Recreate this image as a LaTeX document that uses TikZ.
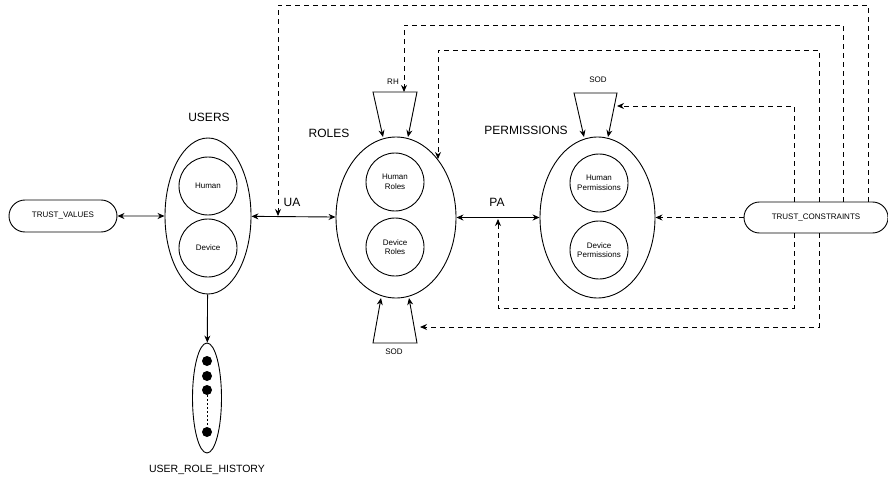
\documentclass[tikz,border=0pt]{standalone}
\usepackage{fontspec}
\setmainfont{Liberation Sans}
\usetikzlibrary{shapes,arrows.meta}

\begin{document}
\begin{tikzpicture}[x=1pt,y=-1pt]
\tikzstyle{every node}=[font=\fontsize{8}{9.5}\selectfont,inner sep=0pt]
\tikzstyle{set}=[ellipse,draw,line width=0.9pt]
\tikzstyle{sub}=[circle,draw,line width=0.9pt,minimum size=58,align=center]
\tikzstyle{term}=[rounded rectangle,draw,line width=0.9pt]
\tikzstyle{big}=[font=\fontsize{12}{14}\selectfont]
\tikzstyle{dot}=[circle,fill=black,minimum size=10]
\tikzstyle{link}=[line width=0.9pt,-{Stealth[length=7pt,width=6pt]}]
\tikzstyle{both}=[line width=0.9pt,{Stealth[length=7pt,width=6pt]}-{Stealth[length=7pt,width=6pt]}]
\tikzstyle{cons}=[line width=0.9pt,dash pattern=on 5pt off 4pt,-{Stealth[length=7pt,width=6pt]}]
\path[use as bounding box] (0,0) rectangle (888,481);

\node[term,minimum width=108,minimum height=32] (tv) at (63,216) {TRUST\_VALUES};
\node[set,minimum width=86,minimum height=156] (users) at (208,216) {};
\node[sub] (uhuman) at (208,186) {Human};
\node[sub] (udevice) at (208,248) {Device};
\node[big] (userslbl) at (209,117) {USERS};

\node[set,minimum width=120,minimum height=161] (roles) at (396,217.5) {};
\node[sub] (rhuman) at (395,182) {Human\\Roles};
\node[sub] (rdevice) at (395,247) {Device\\Roles};
\node[big] (roleslbl) at (329,133) {ROLES};

\node[set,minimum width=115,minimum height=161] (perms) at (597.5,217.5) {};
\node[sub] (phuman) at (599,183) {Human\\Permissions};
\node[sub] (pdevice) at (599,250) {Device\\Permissions};
\node[big] (permslbl) at (526,130) {PERMISSIONS};

\node[term,minimum width=144,minimum height=31] (tc) at (816,217.5) {TRUST\_CONSTRAINTS};

\node[set,minimum width=29,minimum height=110] (hist) at (207,398) {};
\node[dot] (d1) at (207,361) {};
\node[dot] (d2) at (207,376) {};
\node[dot] (d3) at (207,390) {};
\node[dot] (d4) at (207,432) {};
\node[font=\fontsize{10.5}{12}\selectfont] (histlbl) at (207,470) {USER\_ROLE\_HISTORY};
\draw[line width=0.9pt,dash pattern=on 2pt off 2pt] (d3) -- (d4);

\node[big] (ualbl) at (292,202) {UA};
\node[big] (palbl) at (497,202) {PA};
\node (rhlbl) at (393,82) {RH};
\node (sodp) at (598,80) {SOD};
\node (sodr) at (394,352) {SOD};

\coordinate (rh1) at (383,137);
\coordinate (rh2) at (373,92);
\coordinate (rh3) at (417,92);
\coordinate (rh4) at (408,137);
\coordinate (sp1) at (584,137);
\coordinate (sp2) at (574,93);
\coordinate (sp3) at (617,93);
\coordinate (sp4) at (608,137);
\coordinate (sr1) at (381,298);
\coordinate (sr2) at (373,343);
\coordinate (sr3) at (417,343);
\coordinate (sr4) at (409,298);
\draw[both] (rh1) -- (rh2) -- (rh3) -- (rh4);
\draw[both] (sp1) -- (sp2) -- (sp3) -- (sp4);
\draw[both] (sr1) -- (sr2) -- (sr3) -- (sr4);

\draw[both] (tv) -- (users);
\draw[both] (users) -- (roles);
\draw[both] (roles) -- (perms);
\draw[link] (users) -- (hist);

\coordinate (k1) at (868,5);
\coordinate (k2) at (843,25);
\coordinate (k3) at (819,50);
\coordinate (k4) at (794,106);
\coordinate (k5) at (498,308);
\coordinate (ua) at (278,216);
\coordinate (rhtip) at (404,92);
\coordinate (rtip) at (438,159);
\coordinate (sptip) at (617,106);
\coordinate (patip) at (498,219);
\coordinate (srtip) at (420,327);
\draw[cons] (tc.north -| k1) -- (k1) -| (ua);
\draw[cons] (tc.north -| k2) -- (k2) -| (rhtip);
\draw[cons] (tc.north -| k3) -- (k3) -| (rtip);
\draw[cons] (tc.north -| k4) -- (k4) -- (sptip);
\draw[cons] (tc) -- (perms);
\draw[cons] (tc.south -| k4) |- (k5) -- (patip);
\draw[cons] (tc.south -| k3) |- (srtip);
\end{tikzpicture}
\end{document}
